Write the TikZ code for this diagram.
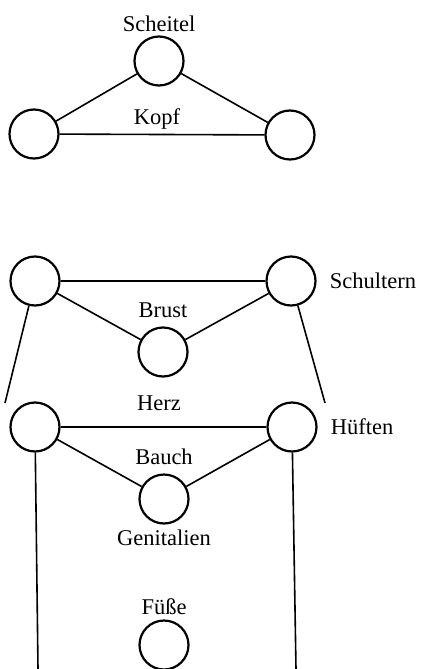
\documentclass[tikz,border=0pt]{standalone}
\usepackage{fontspec}
\setmainfont{Liberation Serif}
\usepackage{tikz}
\usetikzlibrary{positioning}

\begin{document}
\begin{tikzpicture}[
  x=1pt, y=-1pt,
  font=\fontsize{22.5}{26}\selectfont,
  organ/.style={draw, circle, line width=2.2pt, minimum size=49pt, inner sep=0pt},
  lbl/.style={inner sep=1pt},
  link/.style={line width=1.6pt}
]
\useasboundingbox (0,0) rectangle (423,669);
% Kopf
\node[organ] (scheitel) at (159,61) {};
\node[organ] (kopfl) at (34,134) {};
\node[organ] (kopfr) at (290,135) {};
\node[lbl, above=2pt of scheitel] (tscheitel) {Scheitel};
\node[lbl] (tkopf) at (157,119) {Kopf};
\draw[link] (scheitel) -- (kopfl);
\draw[link] (scheitel) -- (kopfr);
\draw[link] (kopfl) -- (kopfr);
% Rumpf
\node[organ] (schulterl) at (35,281) {};
\node[organ] (schulterr) at (291,281) {};
\node[organ] (brust) at (163,352) {};
\node[lbl, right=12pt of schulterr] (tschultern) {Schultern};
\node[lbl, above=7pt of brust] (tbrust) {Brust};
\node[organ] (hueftel) at (35,427) {};
\node[organ] (huefter) at (292,427) {};
\node[organ] (genital) at (164,499) {};
\node[lbl, right=12pt of huefter] (thueften) {Hüften};
\node[lbl] (therz) at (159,403) {Herz};
\node[lbl, above=7pt of genital] (tbauch) {Bauch};
\node[lbl, below=4pt of genital] (tgenital) {Genitalien};
\node[organ] (fuesse) at (164,645) {};
\node[lbl, above=3pt of fuesse] (tfuesse) {Füße};
\coordinate (endl) at (5,403);
\coordinate (endr) at (325,403);
\coordinate (bodenl) at (38,669);
\coordinate (bodenr) at (296,669);
\draw[link] (schulterl) -- (schulterr);
\draw[link] (schulterl) -- (brust);
\draw[link] (schulterr) -- (brust);
\draw[link] (schulterl) -- (endl);
\draw[link] (schulterr) -- (endr);
\draw[link] (hueftel) -- (huefter);
\draw[link] (hueftel) -- (genital);
\draw[link] (huefter) -- (genital);
\draw[link] (hueftel) -- (bodenl);
\draw[link] (huefter) -- (bodenr);
\end{tikzpicture}
\end{document}
